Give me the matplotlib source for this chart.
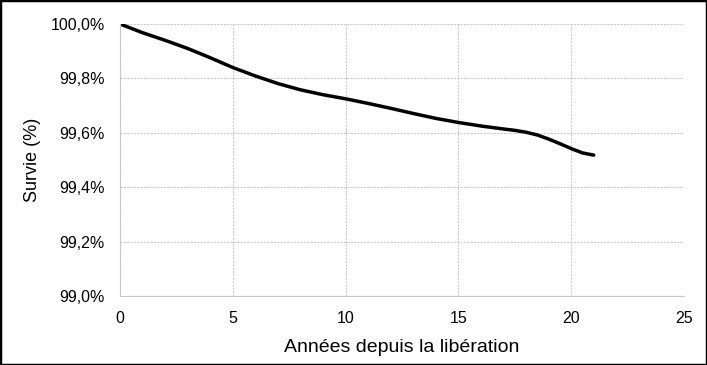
import matplotlib.pyplot as plt
from matplotlib.ticker import FuncFormatter
from matplotlib.patches import Rectangle

plt.rcParams['font.family'] = ['Liberation Sans', 'DejaVu Sans']

years = [0, 1, 2, 3, 4, 5, 6, 7, 8, 9, 10, 11, 12, 13, 14, 15, 16, 17, 17.5, 18,
         18.5, 19, 19.5, 20, 20.5, 21]
survie = [100.0, 99.968, 99.94, 99.91, 99.876, 99.84, 99.809, 99.781, 99.758, 99.74,
          99.725, 99.708, 99.69, 99.671, 99.653, 99.638, 99.625, 99.614, 99.609,
          99.602, 99.592, 99.577, 99.56, 99.542, 99.526, 99.518]

fig = plt.figure(figsize=(7.07, 3.65), dpi=100)
ax = fig.add_axes([120 / 707, 1 - 296 / 365, 564 / 707, 272 / 365])

ax.plot(years, survie, color='black', linewidth=2.5, solid_capstyle='round',
        solid_joinstyle='round')

ax.set_xlim(0, 25)
ax.set_ylim(99.0, 100.0)
ax.set_xticks(range(0, 26, 5))
ax.set_yticks([99.0, 99.2, 99.4, 99.6, 99.8, 100.0])
ax.yaxis.set_major_formatter(FuncFormatter(lambda v, p: f"{v:.1f}%".replace('.', ',')))

ax.grid(True, color='#cccccc', linestyle=(0, (2, 1)), linewidth=0.8)
ax.set_axisbelow(True)
for s in ['top', 'right']:
    ax.spines[s].set_visible(False)
for s in ['left', 'bottom']:
    ax.spines[s].set_color('#c8c8c8')
    ax.spines[s].set_linewidth(0.8)
ax.tick_params(length=0, labelsize=11.5)
ax.tick_params(axis='y', pad=11)
ax.tick_params(axis='x', pad=11)

ax.set_xlabel('Années depuis la libération', fontsize=14, labelpad=9)
ax.set_ylabel('Survie (%)', fontsize=13, labelpad=7)

fig.patches.append(Rectangle((0, 0), 1, 1, transform=fig.transFigure,
                             fill=False, edgecolor='black', linewidth=2.5))

fig.savefig('out.png', dpi=100)
